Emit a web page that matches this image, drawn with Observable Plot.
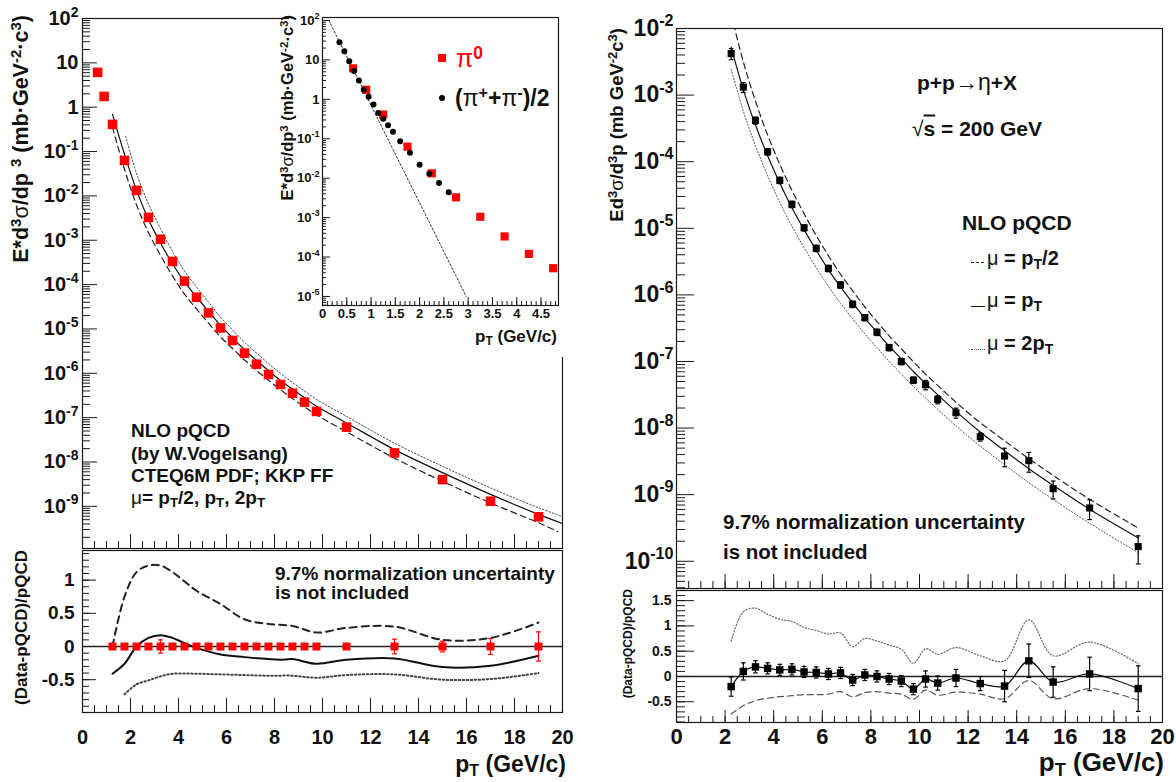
<!DOCTYPE html>
<html><head><meta charset="utf-8">
<script src="https://cdn.jsdelivr.net/npm/d3@7"></script>
<script src="https://cdn.jsdelivr.net/npm/@observablehq/plot@0.6"></script>
<style>
body{margin:0;background:#fff;}
#chart{position:relative;width:1176px;height:782px;overflow:hidden;font-family:"Liberation Sans",Arial,Helvetica,sans-serif;font-weight:bold;color:#111;background:#fff;}
#chart svg{position:absolute;left:0;top:0;}
.lbl{position:absolute;left:0;top:0;white-space:nowrap;line-height:1;transform-origin:0 0;}
.lbl sup{font-size:0.7em;vertical-align:0.45em;line-height:0;}
.lbl sub{font-size:0.7em;vertical-align:-0.3em;line-height:0;}
.g{font-weight:normal;}
</style></head><body><div id="chart"></div>
<script>
// ===== Left panel: pi0 invariant cross section =====
const pi0Pt   = [0.63,0.9,1.25,1.75,2.25,2.75,3.25,3.75,4.25,4.75,5.25,5.75,6.25,6.75,7.25,7.75,8.25,8.75,9.25,9.75,11,13,15,17,19];
const pi0Xsec = [6.1,1.75,0.41,0.063,0.0133,3.27e-3,1.05e-3,3.33e-4,1.2e-4,5.2e-5,2.3e-5,1.05e-5,5.5e-6,2.85e-6,1.6e-6,9.4e-7,5.6e-7,3.55e-7,2.24e-7,1.38e-7,6.1e-8,1.6e-8,4.0e-9,1.3e-9,5.8e-10];

// NLO pQCD curves (left main)
const lSolidPt = [1.25,1.75,2.25,2.75,3.25,3.75,4.25,4.75,5.25,5.75,6.25,6.75,7.25,7.75,8.25,8.75,9.25,9.75,11,13,15,17,19,20];
const lSolid   = [0.69,0.087,0.0135,2.95e-3,8.7e-4,2.95e-4,1.15e-4,5.25e-5,2.5e-5,1.2e-5,6.3e-6,3.4e-6,1.95e-6,1.15e-6,6.9e-7,4.4e-7,2.8e-7,1.8e-7,7.6e-8,1.9e-8,5.75e-9,1.86e-9,6.6e-10,4.1e-10];
const lDashPt  = [1.25,1.75,2.25,2.75,3.25,3.75,4.25,4.75,5.25,5.75,6.25,6.75,7.25,7.75,8.25,8.75,9.25,9.75,11,13,15,17,19,19.8];
const lDashed  = [0.355,0.0398,6.3e-3,1.48e-3,4.57e-4,1.57e-4,6.1e-5,2.82e-5,1.35e-5,6.6e-6,3.63e-6,2.0e-6,1.16e-6,7.0e-7,4.27e-7,2.69e-7,1.76e-7,1.15e-7,4.8e-8,1.22e-8,3.67e-9,1.19e-9,4.27e-10,2.7e-10];
const lDotPt   = [1.8,2.25,2.75,3.25,3.75,4.25,4.75,5.25,5.75,6.25,6.75,7.25,7.75,8.25,8.75,9.25,9.75,11,13,15,17,19,20];
const lDotted  = [0.22,0.0324,6.6e-3,1.82e-3,5.6e-4,2.04e-4,8.8e-5,4.03e-5,1.86e-5,9.5e-6,5.0e-6,2.85e-6,1.66e-6,1.0e-6,6.2e-7,4.0e-7,2.57e-7,1.07e-7,2.66e-8,8.0e-9,2.6e-9,9.3e-10,5.9e-10];

// Left ratio panel
const lRatioPt  = [1.25,1.75,2.25,2.75,3.25,3.75,4.25,4.75,5.25,5.75,6.25,6.75,7.25,7.75,8.25,8.75,9.25,9.75,11,13,15,17,19];
const lRatioVal = [0,0,0,0,0,0,0,0,0,0,0,0,0,0,0,0,0,0,0,0,0,0,0];
const lRatioErr = [0.03,0.03,0.03,0.03,0.10,0.04,0.03,0.03,0.03,0.03,0.03,0.03,0.03,0.03,0.03,0.03,0.03,0.03,0.03,0.11,0.08,0.12,0.22];
const lRSolidPt = [1.25,1.75,2.25,2.75,3.25,3.75,4.25,4.75,5.75,6.75,7.75,8.25,8.75,9.75,11,13,15,17,19];
const lRSolid   = [-0.41,-0.26,0,0.13,0.17,0.13,0.05,-0.02,-0.12,-0.16,-0.19,-0.20,-0.19,-0.26,-0.20,-0.18,-0.31,-0.29,-0.14];
const lRDashPt  = [1.25,1.75,2.25,2.75,3.25,3.75,4.25,4.75,5.75,6.75,7.75,8.75,9.75,11,13,15,17,19];
const lRDash    = [0,0.75,1.12,1.22,1.22,1.12,0.98,0.84,0.64,0.41,0.34,0.31,0.21,0.28,0.30,0.10,0.13,0.36];
const lRDotPt   = [1.75,2.25,2.75,3.25,3.75,4.75,5.75,6.75,7.75,8.75,9.75,11,13,15,17,19];
const lRDot     = [-0.72,-0.57,-0.51,-0.45,-0.41,-0.41,-0.42,-0.43,-0.44,-0.44,-0.47,-0.43,-0.42,-0.50,-0.49,-0.40];

// Inset: low-pT pi0 and charged pions
const pionPt   = [0.35,0.45,0.55,0.65,0.75,0.85,0.95,1.05,1.15,1.25,1.35,1.45,1.6,1.8,2.0,2.2,2.4,2.6];
const pionXsec = [28,16.5,9.3,5.2,3.0,1.75,1.17,0.74,0.45,0.32,0.22,0.15,0.087,0.044,0.022,0.013,7.6e-3,4.4e-3];
const insetFitPt = [0.13,2.96];
const insetFit   = [100,1e-5];

// ===== Right panel: eta invariant cross section =====
const etaPt   = [2.25,2.75,3.25,3.75,4.25,4.75,5.25,5.75,6.25,6.75,7.25,7.75,8.25,8.75,9.25,9.75,10.25,10.75,11.5,12.5,13.5,14.5,15.5,17,19];
const etaXsec = [4.2e-3,1.32e-3,4.17e-4,1.41e-4,5.25e-5,2.29e-5,1.02e-5,5.0e-6,2.5e-6,1.41e-6,7.24e-7,4.57e-7,2.75e-7,1.62e-7,1.0e-7,5.25e-8,4.47e-8,2.69e-8,1.70e-8,7.41e-9,3.80e-9,3.24e-9,1.23e-9,6.31e-10,1.66e-10];
const etaRelErr = [0.19,0.17,0.12,0.11,0.11,0.11,0.11,0.11,0.11,0.11,0.11,0.11,0.11,0.11,0.11,0.11,0.16,0.14,0.17,0.14,0.31,0.33,0.30,0.33,0.45];
const etaSolid  = [5.25e-3,1.20e-3,3.55e-4,1.23e-4,4.79e-5,2.04e-5,9.55e-6,4.68e-6,2.40e-6,1.32e-6,7.59e-7,4.47e-7,2.75e-7,1.70e-7,1.10e-7,7.08e-8,4.68e-8,3.16e-8,1.78e-8,8.71e-9,4.57e-9,2.45e-9,1.38e-9,6.03e-10,2.24e-10];
const etaDashed = [1.62e-2,3.16e-3,8.13e-4,2.51e-4,9.12e-5,3.72e-5,1.66e-5,7.76e-6,3.89e-6,2.04e-6,1.15e-6,6.61e-7,3.98e-7,2.43e-7,1.55e-7,9.89e-8,6.46e-8,4.37e-8,2.45e-8,1.20e-8,6.46e-9,3.47e-9,1.95e-9,8.51e-10,3.16e-10];
const etaDotted = [2.45e-3,5.75e-4,1.74e-4,6.17e-5,2.45e-5,1.07e-5,5.13e-6,2.57e-6,1.35e-6,7.50e-7,4.37e-7,2.60e-7,1.62e-7,1.0e-7,6.53e-8,4.22e-8,2.82e-8,1.91e-8,1.08e-8,5.37e-9,2.82e-9,1.51e-9,8.51e-10,3.72e-10,1.35e-10];
// Right ratio panel
const etaRatio    = [-0.20,0.10,0.19,0.16,0.13,0.14,0.09,0.08,0.05,0.07,-0.07,0.03,0.0,-0.05,-0.09,-0.25,-0.05,-0.13,-0.03,-0.14,-0.19,0.31,-0.11,0.05,-0.24];
const etaRatioErr = [0.19,0.17,0.12,0.11,0.11,0.11,0.11,0.11,0.11,0.11,0.11,0.11,0.11,0.11,0.11,0.11,0.16,0.14,0.17,0.14,0.31,0.33,0.30,0.33,0.45];
const etaRDot     = [0.70,1.28,1.35,1.23,1.13,1.09,0.97,0.91,0.84,0.86,0.59,0.75,0.70,0.62,0.54,0.26,0.55,0.44,0.57,0.41,0.31,1.12,0.41,0.68,0.25];
const etaRDash    = [-0.74,-0.58,-0.48,-0.43,-0.40,-0.38,-0.36,-0.36,-0.35,-0.30,-0.40,-0.32,-0.30,-0.33,-0.35,-0.45,-0.27,-0.37,-0.31,-0.35,-0.44,-0.08,-0.44,-0.24,-0.47];

// ===== helpers =====
const FONT = '"Liberation Sans", Arial, Helvetica, sans-serif';
const W = 1176, H = 782;
const INK = "#1a1a1a", RED = "#ff0000";
const chart = document.getElementById("chart");

const range = (a, b, s) => { const r = []; for (let v = a; v <= b + 1e-9; v += s) r.push(+v.toFixed(6)); return r; };
const logMajor = (lo, hi) => { const r = []; for (let e = lo; e <= hi; e++) r.push(+("1e" + e)); return r; };
const logMinor = (lo, hi, dlo, dhi) => { const r = []; for (let e = lo; e <= hi; e++) for (let m = 2; m <= 9; m++) { const v = m * +("1e" + e); if (v >= dlo && v <= dhi) r.push(v); } return r; };
const fmtLog = d => { const e = Math.round(Math.log10(d)); return e === 0 ? "1" : e === 1 ? "10" : `10^{${e}}`; };
const fmtNum = d => String(d);

function ticksY(vals, len, frameW, sw = 1) {
  return Plot.tickY(vals, {y: d => d, insetRight: frameW - len, stroke: INK, strokeWidth: sw});
}
function ticksX(vals, len, frameH, sw = 1) {
  return Plot.tickX(vals, {x: d => d, insetTop: frameH - len, stroke: INK, strokeWidth: sw});
}
const capSym = {draw(ctx, size) { const w = Math.sqrt(size); ctx.moveTo(-w / 2, 0); ctx.lineTo(w / 2, 0); }};

function panel(box, x, y, marks) {
  const [x0, y0, x1, y1] = box;
  const svg = Plot.plot({
    width: W, height: H,
    marginLeft: x0, marginRight: W - x1, marginTop: y0, marginBottom: H - y1,
    style: {background: "transparent", fontFamily: FONT, overflow: "visible"},
    x, y, marks
  });
  chart.appendChild(svg);
  return svg;
}

function label(html, x, y, {size = 20, anchor = "start", color = "#111", rotate = false, weight = "bold"} = {}) {
  const d = document.createElement("div");
  d.className = "lbl";
  d.innerHTML = html;
  d.style.fontSize = size + "px";
  d.style.color = color;
  d.style.fontWeight = weight;
  const tx = anchor === "start" ? "0%" : anchor === "middle" ? "-50%" : "-100%";
  d.style.transform = rotate
    ? `translate(${x}px, ${y}px) rotate(-90deg) translate(${tx}, -50%)`
    : `translate(${x}px, ${y}px) translate(${tx}, -50%)`;
  chart.appendChild(d);
  return d;
}
function box(x, y, w, h, css) {
  const d = document.createElement("div");
  d.style.cssText = `position:absolute;left:${x}px;top:${y}px;width:${w}px;height:${h}px;${css}`;
  chart.appendChild(d);
  return d;
}

function richify(root) {
  const NS = "http://www.w3.org/2000/svg";
  root.querySelectorAll("text").forEach(t => {
    const s = t.textContent;
    if (!/[\^_]\{/.test(s)) return;
    const fs = parseFloat(getComputedStyle(t).fontSize) || 12;
    while (t.firstChild) t.removeChild(t.firstChild);
    const re = /([\^_])\{([^}]*)\}/g;
    let last = 0, m, cur = 0;
    const add = (str, kind) => {
      if (!str) return;
      const ts = document.createElementNS(NS, "tspan");
      ts.textContent = str;
      const target = kind === "^" ? -0.42 * fs : kind === "_" ? 0.25 * fs : 0;
      if (target !== cur) { ts.setAttribute("dy", (target - cur).toFixed(2)); cur = target; }
      if (kind) ts.setAttribute("font-size", (0.7 * fs).toFixed(2));
      t.appendChild(ts);
    };
    while ((m = re.exec(s))) { add(s.slice(last, m.index), null); add(m[2], m[1]); last = re.lastIndex; }
    add(s.slice(last), null);
  });
}

// ===== Left main panel =====
const LM = [82, 18, 562, 548];
const lmY = [1.12e-10, 100];
panel(LM, {domain: [0, 20], axis: null}, {type: "log", domain: lmY}, [
  ticksY(logMinor(-10, 1, lmY[0], lmY[1]), 8, 480),
  ticksY(logMajor(-9, 2), 15, 480),
  ticksX(range(0, 20, 0.5), 7, 530),
  ticksX(range(0, 20, 2), 14, 530),
  Plot.axisY(logMajor(-9, 2), {tickSize: 0, tickPadding: 4, fontSize: 20, fontWeight: "bold", tickFormat: fmtLog, label: null}),
  Plot.line(lDotPt, {x: lDotPt, y: lDotted, stroke: "#444", strokeWidth: 1, strokeDasharray: "1.5,2", curve: "catmull-rom", clip: true}),
  Plot.line(lDashPt, {x: lDashPt, y: lDashed, stroke: "#222", strokeWidth: 1.2, strokeDasharray: "6,4", curve: "catmull-rom", clip: true}),
  Plot.line(lSolidPt, {x: lSolidPt, y: lSolid, stroke: "#111", strokeWidth: 1.2, curve: "catmull-rom", clip: true}),
  Plot.dot(pi0Pt, {x: pi0Pt, y: pi0Xsec, symbol: "square", r: 5.4, fill: RED, stroke: "none"}),
  Plot.frame({stroke: INK, strokeWidth: 1.2})
]);

// ===== Left ratio panel =====
const LR = [82, 550, 562, 712];
panel(LR, {domain: [0, 20]}, {domain: [-0.994, 1.446]}, [
  ticksY(range(-0.9, 1.4, 0.1), 7, 480),
  ticksY([-0.5, 0, 0.5, 1], 14, 480),
  ticksX(range(0, 20, 0.5), 7, 162),
  ticksX(range(0, 20, 2), 14, 162),
  Plot.axisY([-0.5, 0, 0.5, 1], {tickSize: 0, tickPadding: 8, fontSize: 19, fontWeight: "bold", tickFormat: fmtNum, label: null}),
  Plot.axisX(range(0, 20, 2), {tickSize: 0, tickPadding: 17, fontSize: 20, fontWeight: "bold", tickFormat: fmtNum, label: null}),
  Plot.ruleY([0], {stroke: "#222", strokeWidth: 1.5}),
  Plot.line(lRDotPt, {x: lRDotPt, y: lRDot, stroke: "#444", strokeWidth: 2, strokeDasharray: "1.5,2.5", curve: "catmull-rom", clip: true}),
  Plot.line(lRDashPt, {x: lRDashPt, y: lRDash, stroke: "#222", strokeWidth: 2, strokeDasharray: "7,5", curve: "catmull-rom", clip: true}),
  Plot.line(lRSolidPt, {x: lRSolidPt, y: lRSolid, stroke: "#111", strokeWidth: 2, curve: "catmull-rom", clip: true}),
  Plot.ruleX(lRatioPt, {x: lRatioPt, y1: lRatioPt.map((d, i) => lRatioVal[i] - lRatioErr[i]), y2: lRatioPt.map((d, i) => lRatioVal[i] + lRatioErr[i]), stroke: RED, strokeWidth: 1.2}),
  Plot.dot(lRatioPt, {x: lRatioPt, y: lRatioPt.map((d, i) => lRatioVal[i] + lRatioErr[i]), symbol: capSym, r: 2.8, fill: "none", stroke: RED, strokeWidth: 1.2}),
  Plot.dot(lRatioPt, {x: lRatioPt, y: lRatioPt.map((d, i) => lRatioVal[i] - lRatioErr[i]), symbol: capSym, r: 2.8, fill: "none", stroke: RED, strokeWidth: 1.2}),
  Plot.dot(lRatioPt, {x: lRatioPt, y: lRatioVal, symbol: "square", r: 4.5, fill: RED, stroke: "none"}),
  Plot.frame({stroke: INK, strokeWidth: 1.2})
]);

// inset pad (white) covering part of the left main panel
box(289, 0, 290, 357, "background:#fff;");

// ===== Inset =====
const IN = [322, 17, 558, 305];
const inY = [5.9e-6, 119];
panel(IN, {domain: [0, 4.86]}, {type: "log", domain: inY}, [
  ticksY(logMinor(-6, 2, inY[0], inY[1]), 4, 236),
  ticksY(logMajor(-5, 2), 8, 236),
  ticksX(range(0, 4.8, 0.1), 4, 288),
  ticksX(range(0, 4.5, 0.5), 8, 288),
  Plot.axisY(logMajor(-5, 2), {tickSize: 0, tickPadding: 3, fontSize: 13, fontWeight: "bold", tickFormat: fmtLog, label: null}),
  Plot.axisX(range(0, 4.5, 0.5), {tickSize: 0, tickPadding: 3, fontSize: 13, fontWeight: "bold", tickFormat: fmtNum, label: null}),
  Plot.line(insetFitPt, {x: insetFitPt, y: insetFit, stroke: "#333", strokeWidth: 1, strokeDasharray: "2,2", clip: true}),
  Plot.dot(pi0Pt.slice(0, 10), {x: pi0Pt.slice(0, 10), y: pi0Xsec.slice(0, 10), symbol: "square", r: 4.6, fill: RED, stroke: "none"}),
  Plot.dot(pionPt, {x: pionPt, y: pionXsec, r: 3, fill: "#000", stroke: "none"}),
  Plot.frame({stroke: INK, strokeWidth: 1.2})
]);

// ===== Right main panel =====
const RM = [676, 28, 1162, 588];
const rmY = [3.9e-11, 1e-2];
panel(RM, {domain: [0, 20], axis: null}, {type: "log", domain: rmY}, [
  ticksY(logMinor(-11, -3, rmY[0], rmY[1]), 9, 486),
  ticksY(logMajor(-10, -2), 18, 486),
  ticksX(range(0, 20, 0.5), 7, 560),
  ticksX(range(0, 20, 2), 14, 560),
  Plot.axisY(logMajor(-10, -2), {tickSize: 0, tickPadding: 3, fontSize: 23, fontWeight: "bold", tickFormat: fmtLog, label: null}),
  Plot.line(etaPt, {x: etaPt, y: etaDotted, stroke: "#555", strokeWidth: 1, strokeDasharray: "1.2,2", curve: "catmull-rom", clip: true}),
  Plot.line(etaPt, {x: etaPt, y: etaDashed, stroke: "#222", strokeWidth: 1.2, strokeDasharray: "6,4", curve: "catmull-rom", clip: true}),
  Plot.line(etaPt, {x: etaPt, y: etaSolid, stroke: "#111", strokeWidth: 1.2, curve: "catmull-rom", clip: true}),
  Plot.ruleX(etaPt, {x: etaPt, y1: etaPt.map((d, i) => etaXsec[i] * (1 - etaRelErr[i])), y2: etaPt.map((d, i) => etaXsec[i] * (1 + etaRelErr[i])), stroke: "#000", strokeWidth: 1.2}),
  Plot.dot(etaPt, {x: etaPt, y: etaPt.map((d, i) => etaXsec[i] * (1 + etaRelErr[i])), symbol: capSym, r: 2.6, fill: "none", stroke: "#000", strokeWidth: 1.2}),
  Plot.dot(etaPt, {x: etaPt, y: etaPt.map((d, i) => etaXsec[i] * (1 - etaRelErr[i])), symbol: capSym, r: 2.6, fill: "none", stroke: "#000", strokeWidth: 1.2}),
  Plot.dot(etaPt, {x: etaPt, y: etaXsec, symbol: "square", r: 4.0, fill: "#000", stroke: "none"}),
  Plot.frame({stroke: INK, strokeWidth: 1.2})
]);

// ===== Right ratio panel =====
const RR = [676, 590, 1162, 722];
panel(RR, {domain: [0, 20]}, {domain: [-0.91, 1.70]}, [
  ticksY(range(-0.9, 1.7, 0.1), 9, 486),
  ticksY([-0.5, 0, 0.5, 1, 1.5], 18, 486),
  ticksX(range(0, 20, 0.5), 6, 132),
  ticksX(range(0, 20, 2), 12, 132),
  Plot.axisY([-0.5, 0, 0.5, 1, 1.5], {tickSize: 0, tickPadding: 5, fontSize: 14, fontWeight: "bold", tickFormat: fmtNum, label: null}),
  Plot.axisX(range(0, 20, 2), {tickSize: 0, tickPadding: 6, fontSize: 22, fontWeight: "bold", tickFormat: fmtNum, label: null}),
  Plot.ruleY([0], {stroke: "#222", strokeWidth: 1.5}),
  Plot.line(etaPt, {x: etaPt, y: etaRDot, stroke: "#666", strokeWidth: 1.2, strokeDasharray: "1.2,2", curve: "catmull-rom", clip: true}),
  Plot.line(etaPt, {x: etaPt, y: etaRDash, stroke: "#555", strokeWidth: 1.2, strokeDasharray: "6,4", curve: "catmull-rom", clip: true}),
  Plot.line(etaPt, {x: etaPt, y: etaRatio, stroke: "#111", strokeWidth: 1.2, curve: "catmull-rom", clip: true}),
  Plot.ruleX(etaPt, {x: etaPt, y1: etaPt.map((d, i) => etaRatio[i] - etaRatioErr[i]), y2: etaPt.map((d, i) => etaRatio[i] + etaRatioErr[i]), stroke: "#000", strokeWidth: 1.2}),
  Plot.dot(etaPt, {x: etaPt, y: etaPt.map((d, i) => etaRatio[i] + etaRatioErr[i]), symbol: capSym, r: 2.6, fill: "none", stroke: "#000", strokeWidth: 1.2}),
  Plot.dot(etaPt, {x: etaPt, y: etaPt.map((d, i) => etaRatio[i] - etaRatioErr[i]), symbol: capSym, r: 2.6, fill: "none", stroke: "#000", strokeWidth: 1.2}),
  Plot.dot(etaPt, {x: etaPt, y: etaRatio, symbol: "square", r: 4.2, fill: "#000", stroke: "none"}),
  Plot.frame({stroke: INK, strokeWidth: 1.2})
]);

chart.querySelectorAll("svg").forEach(richify);

// ===== Text =====
// left
label(`E*d<sup>3</sup><span class="g">σ</span>/dp <sup>3</sup> (mb·GeV<sup>-2</sup>·c<sup>3</sup>)`, 22, 15, {size: 21.5, anchor: "end", rotate: true});
label(`(Data-pQCD)/pQCD`, 21, 550, {size: 17, anchor: "end", rotate: true});
label(`NLO pQCD`, 131, 430, {size: 19});
label(`(by W.Vogelsang)`, 131, 453, {size: 19});
label(`CTEQ6M PDF; KKP FF`, 131, 475, {size: 19});
label(`<span class="g">μ</span>= p<sub>T</sub>/2, p<sub>T</sub>, 2p<sub>T</sub>`, 131, 497, {size: 19});
label(`9.7% normalization uncertainty`, 275, 573, {size: 19});
label(`is not included`, 275, 592, {size: 19});
label(`p<sub>T</sub> (GeV/c)`, 566, 764, {size: 23, anchor: "end"});
// inset
label(`E*d<sup>3</sup><span class="g">σ</span>/dp<sup>3</sup> (mb·GeV<sup>-2</sup>·c<sup>3</sup>)`, 287, 15, {size: 16.5, anchor: "end", rotate: true});
label(`p<sub>T</sub> (GeV/c)`, 557, 336, {size: 17, anchor: "end"});
box(438, 54, 8, 8, `background:${RED};`);
label(`<span class="g">π</span><sup>0</sup>`, 456, 58, {size: 25, color: RED});
box(439, 95, 6, 6, "background:#000;border-radius:50%;");
label(`(<span class="g">π</span><sup>+</sup>+<span class="g">π</span><sup>-</sup>)/2`, 455, 98, {size: 23});
// right
label(`Ed<sup>3</sup><span class="g">σ</span>/d<sup>3</sup>p (mb GeV<sup>-2</sup>c<sup>3</sup>)`, 617, 28, {size: 18.5, anchor: "end", rotate: true});
label(`(Data-pQCD)/pQCD`, 628, 589, {size: 12, anchor: "end", rotate: true});
label(`p+p<span class="g" style="font-size:1.1em">→η</span>+X`, 917, 83, {size: 21});
label(`<span class="g">√</span><span style="text-decoration:overline">s</span> = 200 GeV`, 912, 128, {size: 21});
label(`NLO pQCD`, 962, 222, {size: 21});
box(971, 262, 13, 0, "border-top:1px dashed #222;");
label(`<span class="g">μ</span> = p<sub>T</sub>/2`, 987, 258, {size: 20});
box(971, 306, 14, 0, "border-top:1.2px solid #111;");
label(`<span class="g">μ</span> = p<sub>T</sub>`, 987, 300, {size: 20});
box(971, 349, 14, 0, "border-top:1px dotted #555;");
label(`<span class="g">μ</span> = 2p<sub>T</sub>`, 987, 343, {size: 20});
label(`9.7% normalization uncertainty`, 723, 522, {size: 20.5});
label(`is not included`, 723, 552, {size: 20.5});
label(`p<sub>T</sub> (GeV/c)`, 1164, 762, {size: 26, anchor: "end"});
</script></body></html>
